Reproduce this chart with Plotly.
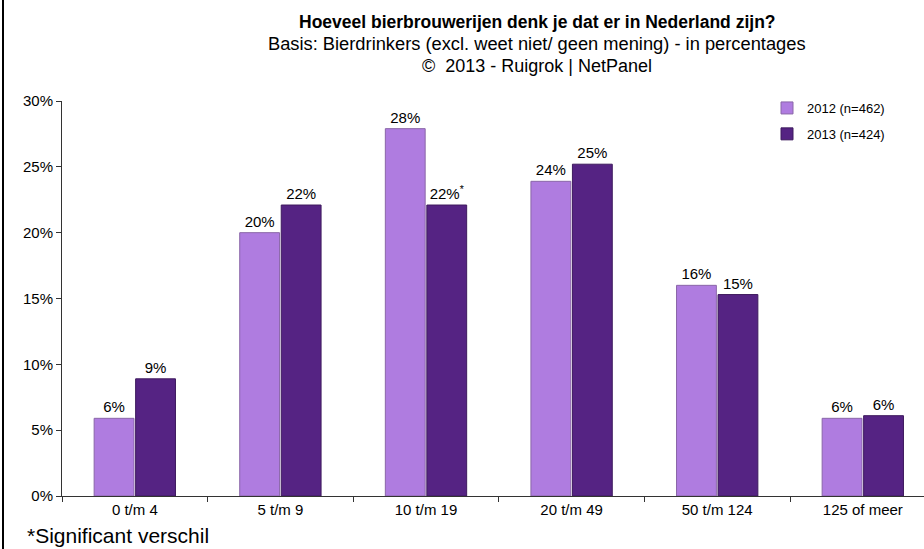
import plotly.graph_objects as go

categories = ["0 t/m 4", "5 t/m 9", "10 t/m 19", "20 t/m 49", "50 t/m 124", "125 of meer"]
values_2012 = [5.9, 20.0, 27.9, 23.9, 16.0, 5.9]
values_2013 = [8.9, 22.1, 22.1, 25.2, 15.3, 6.1]
significant_2013 = [False, False, True, False, False, False]
series_names = ["2012 (n=462)", "2013 (n=424)"]
y_ticks = [0, 5, 10, 15, 20, 25, 30]

W, H = 924, 549
ml, mr, mt, mb = 62, 0, 101, 53
pw = W - ml - mr
ph = H - mt - mb


def px_x(x):
    return (x - ml) / pw


def px_y(y):
    return (H - mb - y) / ph


def labels(vals, sig=None):
    out = []
    for i, v in enumerate(vals):
        s = f"{round(v):.0f}%"
        if sig and sig[i]:
            s += "<sup>*</sup>"
        out.append(s)
    return out


font = "Liberation Sans, Arial, sans-serif"

fig = go.Figure()
fig.add_bar(x=categories, y=values_2012, name=series_names[0], legendgroup="a",
            marker=dict(color="#AF7CE0", line=dict(color="#8A66A8", width=1)),
            text=labels(values_2012), textposition="outside", cliponaxis=False,
            textfont=dict(size=15, color="#000"))
fig.add_bar(x=categories, y=values_2013, name=series_names[1], legendgroup="b",
            marker=dict(color="#552383", line=dict(color="#3E1A5E", width=1)),
            text=labels(values_2013, significant_2013), textposition="outside", cliponaxis=False,
            textfont=dict(size=15, color="#000"))

fig.update_layout(
    width=W, height=H,
    margin=dict(l=ml, r=mr, t=mt, b=mb),
    paper_bgcolor="white", plot_bgcolor="white",
    font=dict(family=font, size=15, color="#000"),
    barmode="group", bargap=0.43, bargroupgap=0.04,
    showlegend=True,
    legend=dict(x=px_x(767), y=px_y(93), xanchor="left", yanchor="top",
                font=dict(size=13), itemwidth=30, traceorder="grouped",
                tracegroupgap=6, bgcolor="rgba(0,0,0,0)"),
    xaxis=dict(range=[-0.5, -0.5 + pw / 145.6], showline=True, linecolor="#333",
               linewidth=1, ticks="outside", tickson="boundaries", ticklen=5,
               tickcolor="#333", showgrid=False, tickfont=dict(size=15)),
    yaxis=dict(range=[0, 30], tickvals=y_ticks, ticktext=[f"{t}%" for t in y_ticks],
               showline=True, linecolor="#333", linewidth=1, ticks="outside",
               ticklen=5, tickcolor="#333", showgrid=False, zeroline=False,
               tickfont=dict(size=15)),
)

title_cx = px_x(537)
fig.add_annotation(x=title_cx, y=px_y(22), xref="paper", yref="paper",
                   text="<b>Hoeveel bierbrouwerijen denk je dat er in Nederland zijn?</b>",
                   showarrow=False, font=dict(size=17.5), xanchor="center", yanchor="middle")
fig.add_annotation(x=title_cx, y=px_y(43), xref="paper", yref="paper",
                   text="Basis: Bierdrinkers (excl. weet niet/ geen mening) - in percentages",
                   showarrow=False, font=dict(size=18.3), xanchor="center", yanchor="middle")
fig.add_annotation(x=title_cx, y=px_y(66), xref="paper", yref="paper",
                   text="©  2013 - Ruigrok | NetPanel",
                   showarrow=False, font=dict(size=18), xanchor="center", yanchor="middle")
fig.add_annotation(x=px_x(25), y=px_y(535), xref="paper", yref="paper",
                   text="*Significant verschil", showarrow=False, font=dict(size=21),
                   xanchor="left", yanchor="middle")
fig.add_shape(type="line", xref="paper", yref="paper",
              x0=px_x(3), x1=px_x(3), y0=px_y(549), y1=px_y(0),
              line=dict(color="#000", width=2))

fig.write_html("out.html", config={"displayModeBar": False},
               post_script="document.body.style.margin='0px';")
